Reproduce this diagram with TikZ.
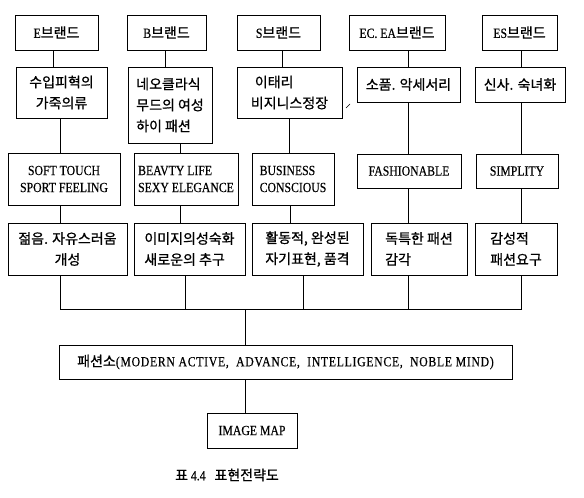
\documentclass[tikz,border=0pt]{standalone}
\usepackage{fontspec}
\setmainfont{Liberation Serif}[FakeStretch=0.84,FakeBold=0.4]
\newfontfamily\kr{Noto Sans CJK KR}[FakeBold=0.8]
\newcommand\K[1]{{\kr #1}}
\tikzset{
  ln/.style={line width=0.9pt},
  boxst/.style={draw, line width=1pt, inner sep=0pt},
  kt/.style={font=\kr\fontsize{14}{21}\selectfont},
  lt/.style={font=\fontsize{14}{17}\selectfont},
}
\newcommand\bbox[7]{%
  \pgfmathsetmacro\bw{#4-#2}%
  \pgfmathsetmacro\bh{#5-#3}%
  \pgfmathsetmacro\cx{(#2+#4)/2}%
  \pgfmathsetmacro\cy{(#3+#5)/2}%
  \node[boxst, minimum width=\bw pt, minimum height=\bh pt, #6] (#1) at (\cx,\cy) {#7};}
\newcommand\conn[3]{%
  \coordinate (tmpc) at (#3,0);
  \draw[ln] (#1.south -| tmpc) -- (#2.north -| tmpc);}
\begin{document}
\begin{tikzpicture}[x=1pt,y=-1pt]
\useasboundingbox[fill=white] (0,0) rectangle (584,498);
% row 1
\bbox{e1}{15}{15}{98}{50}{lt}{E\K{브랜드}}
\bbox{b1}{127}{15}{206}{50}{lt}{B\K{브랜드}}
\bbox{s1}{237}{15}{320}{50}{lt}{S\K{브랜드}}
\bbox{c1}{349}{15}{445}{50}{lt}{EC. EA\K{브랜드}}
\bbox{f1}{482}{15}{557}{50}{lt}{ES\K{브랜드}}
% row 2
\bbox{e2}{16}{67}{107}{118}{kt,align=center}{수입피혁의\\가죽의류}
\bbox{b2}{128}{67}{212}{143}{kt,align=left}{네오클라식\\무드의 여성\\하이 패션}
\bbox{s2}{237}{67}{342}{118}{kt,align=left}{\hspace{4pt}이태리\\비지니스정장}
\bbox{c2}{357}{67}{460}{102}{kt,align=center}{소품. 악세서리}
\bbox{f2}{475}{67}{565}{102}{kt,align=center}{신사. 숙녀화}
% row 3
\bbox{e3}{8}{153}{120}{205}{lt,align=center}{SOFT TOUCH\\SPORT FEELING}
\bbox{b3}{134}{153}{238}{205}{lt,align=left}{BEAVTY LIFE\\SEXY ELEGANCE}
\bbox{s3}{252}{153}{334}{205}{lt,align=left}{BUSINESS\\CONSCIOUS}
\bbox{c3}{357}{154}{461}{188}{lt,align=center}{FASHIONABLE}
\bbox{f3}{476}{154}{558}{188}{lt,align=center}{SIMPLITY}
% row 4
\bbox{e4}{8}{223}{127}{275}{kt,align=center}{젊음. 자유스러움\\개성}
\bbox{b4}{134}{223}{245}{275}{kt,align=left}{이미지의성숙화\\새로운의 추구}
\bbox{s4}{252}{223}{363}{275}{kt,align=left}{활동적, 완성된\\자기표현, 품격}
\bbox{c4}{371}{223}{467}{275}{kt,align=left}{독특한 패션\\감각\hspace{42pt}}
\bbox{f4}{475}{223}{557}{275}{kt,align=left}{감성적\\패션요구}
% bottom
\bbox{main}{59}{345}{512}{379}{lt}{\K{패션소}{\addfontfeature{LetterSpace=5}(MODERN ACTIVE,\ \ ADVANCE,\ \ INTELLIGENCE,\ \ NOBLE MIND)}}
\bbox{img}{207}{413}{297}{448}{lt}{IMAGE MAP}
\node[font=\fontsize{14}{15}\selectfont] (cap) at (227,475) {\K{표}\ 4.4\ \ \ \K{표현전략도}};
% connectors
\conn{e1}{e2}{53}
\conn{b1}{b2}{165}
\conn{s1}{s2}{282}
\conn{c1}{c2}{408}
\conn{f1}{f2}{521}
\conn{e2}{e3}{60}
\conn{b2}{b3}{180}
\conn{s2}{s3}{289}
\conn{c2}{c3}{408}
\conn{f2}{f3}{521}
\conn{e3}{e4}{60}
\conn{b3}{b4}{180}
\conn{s3}{s4}{290}
\conn{c3}{c4}{408}
\conn{f3}{f4}{521}
\coordinate (hL) at (60,309);
\coordinate (hR) at (521,309);
\coordinate (hB) at (185,309);
\coordinate (hS) at (303,309);
\coordinate (hC) at (408,309);
\coordinate (hM) at (245,309);
\draw[ln] (e4.south -| hL) -- (hL) -- (hR) -- (f4.south -| hR);
\draw[ln] (b4.south -| hB) -- (hB);
\draw[ln] (s4.south -| hS) -- (hS);
\draw[ln] (c4.south -| hC) -- (hC);
\draw[ln] (hM) -- (main.north -| hM);
\draw[ln] (main.south -| hM) -- (img.north -| hM);
% scan tick
\draw[line width=0.6pt] (346,108) -- (350,104);
\end{tikzpicture}
\end{document}
